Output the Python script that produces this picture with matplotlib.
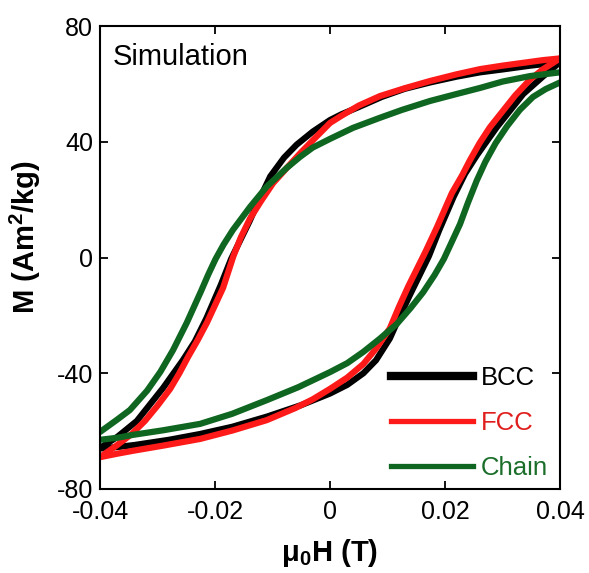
import matplotlib
matplotlib.use("Agg")
import matplotlib.pyplot as plt
from matplotlib.lines import Line2D

plt.rcParams['font.family'] = ['Liberation Sans', 'DejaVu Sans']
plt.rcParams['mathtext.fontset'] = 'custom'
plt.rcParams['mathtext.rm'] = 'Liberation Sans'
plt.rcParams['mathtext.bf'] = 'Liberation Sans:bold'

# descending branch (from +H to -H)
bcc_h_down = [0.040, 0.037, 0.0348, 0.030, 0.0261, 0.022, 0.0174, 0.013, 0.009, 0.005,
              0.002, 0.000, -0.003, -0.0058, -0.008, -0.0104, -0.0122, -0.014, -0.0156,
              -0.0172, -0.019, -0.0215, -0.0235, -0.0256, -0.029, -0.031, -0.0336,
              -0.037, -0.040]
bcc_m_down = [67.5, 66.8, 66.3, 65.0, 64.0, 62.5, 60.5, 58.3, 55.5, 52.0,
              49.5, 47.5, 43.5, 39.0, 34.5, 28.0, 20.5, 12.5, 6.0,
              -0.5, -9.5, -21.0, -29.0, -35.5, -45.0, -50.0, -56.5,
              -62.0, -65.8]
# ascending branch (from -H to +H)
bcc_h_up = [-0.040, -0.037, -0.034, -0.028, -0.0226, -0.017, -0.011, -0.005, 0.000,
            0.003, 0.0058, 0.008, 0.0104, 0.0122, 0.014, 0.0156, 0.0172, 0.019,
            0.0215, 0.0235, 0.0256, 0.029, 0.031, 0.0336, 0.037, 0.040]
bcc_m_up = [-66.0, -65.5, -64.8, -63.0, -61.0, -58.5, -55.0, -51.0, -47.0,
            -44.0, -40.0, -35.5, -28.0, -20.0, -12.5, -6.0, 0.5, 9.5,
            21.0, 29.0, 35.5, 45.0, 50.0, 56.5, 62.5, 67.5]

fcc_h_down = [0.040, 0.037, 0.0348, 0.030, 0.0261, 0.022, 0.0174, 0.013, 0.0087, 0.005,
              0.002, 0.000, -0.0025, -0.0052, -0.0075, -0.0099, -0.012, -0.0139, -0.0155,
              -0.0168, -0.0186, -0.0214, -0.023, -0.0247, -0.0262, -0.0278, -0.030,
              -0.0322, -0.0345, -0.037, -0.040]
fcc_m_down = [68.8, 68.2, 67.6, 66.3, 65.1, 63.3, 61.0, 58.5, 55.8, 52.5,
              49.0, 46.5, 41.5, 36.0, 31.0, 25.7, 19.5, 13.5, 7.0,
              0.5, -10.5, -22.5, -28.5, -34.4, -40.0, -45.4, -51.2,
              -56.5, -61.0, -64.8, -69.0]
fcc_h_up = [-0.040, -0.037, -0.0343, -0.029, -0.0226, -0.017, -0.011, -0.006, -0.003,
            0.000, 0.003, 0.0058, 0.008, 0.0104, 0.012, 0.0136, 0.0151, 0.0166, 0.0186,
            0.0212, 0.023, 0.0243, 0.026, 0.0278, 0.030, 0.0322, 0.0348, 0.037, 0.040]
fcc_m_up = [-69.0, -67.8, -66.8, -65.0, -62.7, -59.8, -56.2, -52.0, -49.0,
            -45.4, -41.5, -36.8, -31.5, -24.5, -17.0, -10.0, -4.0, 2.0, 10.5,
            22.3, 28.5, 33.5, 39.5, 45.0, 50.5, 56.0, 61.5, 65.0, 68.8]

chain_h_down = [0.040, 0.0348, 0.030, 0.0261, 0.022, 0.0174, 0.0125, 0.0087, 0.004,
                0.000, -0.003, -0.0052, -0.0075, -0.011, -0.0139, -0.0169, -0.0185,
                -0.0199, -0.0212, -0.0224, -0.0249, -0.0273, -0.0295, -0.0318,
                -0.0348, -0.037, -0.040]
chain_m_down = [64.0, 62.7, 60.8, 58.6, 56.5, 54.1, 51.0, 48.3, 44.8,
                41.0, 38.0, 34.8, 31.0, 24.5, 17.5, 9.5, 4.5,
                -0.5, -6.0, -11.5, -22.5, -32.0, -39.5, -46.0,
                -52.7, -56.0, -60.3]
chain_h_up = [-0.040, -0.037, -0.0343, -0.029, -0.0226, -0.017, -0.011, -0.0055, 0.000,
              0.003, 0.0058, 0.0087, 0.0116, 0.014, 0.0162, 0.0182, 0.0198, 0.0212,
              0.0226, 0.024, 0.0255, 0.027, 0.0288, 0.0308, 0.033, 0.0353, 0.0375, 0.040]
chain_m_up = [-63.0, -62.3, -61.3, -59.7, -57.5, -54.0, -49.3, -44.8, -39.6,
              -36.5, -32.6, -28.0, -23.0, -17.5, -12.0, -6.0, -0.5, 5.5,
              11.5, 19.0, 26.5, 33.0, 39.5, 45.4, 51.0, 55.5, 58.2, 60.5]

labels = ['BCC', 'FCC', 'Chain']
colors = ['#000000', '#ff1a1a', '#0e6620']
text_colors = ['#000000', '#e01e1e', '#1a6e2a']

fig = plt.figure(figsize=(5.89, 5.73), dpi=100)
ax = fig.add_axes([0.1698, 0.1466, 0.781, 0.808])

curves = [(bcc_h_down, bcc_m_down, bcc_h_up, bcc_m_up),
          (fcc_h_down, fcc_m_down, fcc_h_up, fcc_m_up),
          (chain_h_down, chain_m_down, chain_h_up, chain_m_up)]
for (hd, md, hu, mu), c in zip(curves, colors):
    ax.plot(hd, md, color=c, lw=4.5, solid_joinstyle='round', solid_capstyle='round')
    ax.plot(hu, mu, color=c, lw=4.5, solid_joinstyle='round', solid_capstyle='round')

ax.set_xlim(-0.04, 0.04)
ax.set_ylim(-80, 80)
ax.set_xticks([-0.04, -0.02, 0, 0.02, 0.04])
ax.set_xticklabels(['-0.04', '-0.02', '0', '0.02', '0.04'])
ax.set_yticks([-80, -40, 0, 40, 80])
ax.set_yticklabels(['-80', '-40', '0', '40', '80'])
ax.tick_params(direction='in', length=6, width=1.3, labelsize=18,
               top=True, right=True)
ax.tick_params(axis='x', pad=8)
ax.tick_params(axis='y', pad=5)
for s in ax.spines.values():
    s.set_linewidth(1.5)

ax.set_xlabel(r'μ$_\mathbf{0}$H (T)', fontsize=21, fontweight='bold', labelpad=9)
ax.set_ylabel(r'M (Am$^\mathbf{2}$/kg)', fontsize=21, fontweight='bold')
ax.yaxis.set_label_coords(-0.124, 0.545)

ax.text(0.028, 0.916, 'Simulation', transform=ax.transAxes, fontsize=21, va='baseline')

handles = [Line2D([], [], color=colors[0], lw=6.0),
           Line2D([], [], color=colors[1], lw=3.8),
           Line2D([], [], color=colors[2], lw=3.8)]
ax.legend(handles, labels, loc='lower right', bbox_to_anchor=(0.985, 0.008),
          frameon=False, fontsize=18.5, handlelength=3.2, handletextpad=0.3,
          labelspacing=0.82, borderpad=0.2, borderaxespad=0.0, labelcolor=text_colors)

fig.savefig('out.png', dpi=100)
